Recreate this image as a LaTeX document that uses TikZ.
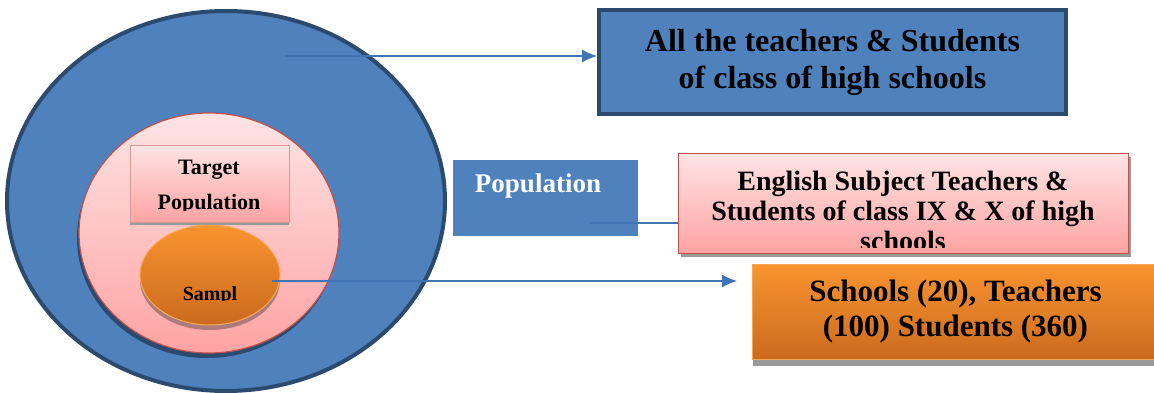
\documentclass[tikz,border=0pt]{standalone}
\usepackage{fontspec}
\setmainfont{Liberation Serif}
\usetikzlibrary{shapes.geometric,shadows,arrows.meta}
\definecolor{popblue}{HTML}{4F81BD}
\definecolor{linkblue}{HTML}{4274B4}
\definecolor{navy}{HTML}{2C4A6E}
\definecolor{redline}{HTML}{C0504D}
\definecolor{pinktop}{HTML}{FFE4E4}
\definecolor{pinkbot}{HTML}{FFA3A3}
\definecolor{orangetop}{HTML}{F99430}
\definecolor{orangebot}{HTML}{CB6A1E}
\definecolor{shade}{HTML}{9A9A9A}
\begin{document}
\begin{tikzpicture}[x=1pt, y=-1pt,
      oval/.style={ellipse, inner sep=0pt},
      block/.style={rectangle, inner sep=0pt, anchor=north west},
      pinkfill/.style={top color=pinktop, bottom color=pinkbot},
      orangefill/.style={top color=orangetop, bottom color=orangebot},
      label/.style={inner sep=0pt, align=center, font=\bfseries},
      line/.style={draw, linkblue, line width=1.3pt},
      arrow/.style={line, -{Latex[length=15pt, width=13pt]}}
      ]
    \useasboundingbox (0, 0) rectangle (1154, 393);

    % the three ovals
    \node [oval, draw=navy, line width=4pt, fill=popblue,
      minimum width=438, minimum height=380] (pop) at (226, 201) {};
    \node [oval, draw=redline, line width=1.2pt, pinkfill,
      drop shadow={shadow xshift=-2pt, shadow yshift=-5pt, fill=navy, opacity=1},
      minimum width=260, minimum height=240] (target) at (209, 233) {};
    \node [oval, draw=orangetop!80!white, line width=1pt, orangefill,
      drop shadow={shadow xshift=0pt, shadow yshift=-5pt, fill=shade!80!red, opacity=1},
      minimum width=140, minimum height=100] (sample) at (210, 275) {};

    \node [block, draw=pinkbot!70!gray, pinkfill,
      drop shadow={shadow xshift=0pt, shadow yshift=-3pt, fill=shade, opacity=1},
      minimum width=159, minimum height=77] (tbox) at (130, 145) {};
    \begin{scope}
      \clip (130, 145) rectangle (289, 210);
      \node [label, anchor=north, font=\fontsize{22}{35}\selectfont\bfseries]
        (ttext) at (209, 160) {Target\\Population};
    \end{scope}
    \begin{scope}
      \clip (140, 240) rectangle (280, 300);
      \node [label, anchor=base, font=\fontsize{20}{24}\selectfont\bfseries]
        (stext) at (210, 300) {Sampl};
    \end{scope}

    % boxes on the right
    \node [block, draw=navy, line width=4pt, fill=popblue,
      minimum width=467, minimum height=104] (allbox) at (597, 8) {};
    \node [label, font=\fontsize{32}{37}\selectfont\bfseries]
      (alltext) at (allbox.center) {All the teachers \& Students\\of class of high schools};

    \node [block, fill=popblue, minimum width=185, minimum height=76] (popbox) at (453, 160) {};
    \node [label, anchor=base, text=white, font=\fontsize{27}{30}\selectfont\bfseries]
      (poptext) at (538, 193) {Population};

    \node [block, draw=redline, line width=1.2pt, pinkfill,
      drop shadow={shadow xshift=2pt, shadow yshift=-3pt, fill=shade, opacity=1},
      minimum width=450, minimum height=100] (engbox) at (678, 153) {};
    \begin{scope}
      \clip (679, 154) rectangle (1127, 247);
      \node [label, anchor=north, font=\fontsize{28}{30}\selectfont\bfseries]
        (engtext) at (903, 171) {English Subject Teachers \&\\Students of class IX \& X of high\\schools};
    \end{scope}

    \node [block, draw=orangetop!85!white, line width=1pt, orangefill,
      drop shadow={shadow xshift=0pt, shadow yshift=-6pt, fill=shade, opacity=1},
      minimum width=406, minimum height=95] (sampbox) at (752, 264) {};
    \node [label, font=\fontsize{31}{35}\selectfont\bfseries]
      (samptext) at (sampbox.center) {Schools (20), Teachers\\(100) Students (360)};

    % connectors
    \coordinate (a1) at (285, 56);
    \coordinate (a2) at (590, 223);
    \coordinate (a3) at (272, 281);
    \path [arrow] (a1) -- (a1 -| allbox.west);
    \path [line] (a2) -- (a2 -| engbox.west);
    \path [arrow] (a3) -- ([xshift=-15pt]a3 -| sampbox.west);
  \end{tikzpicture}
\end{document}
